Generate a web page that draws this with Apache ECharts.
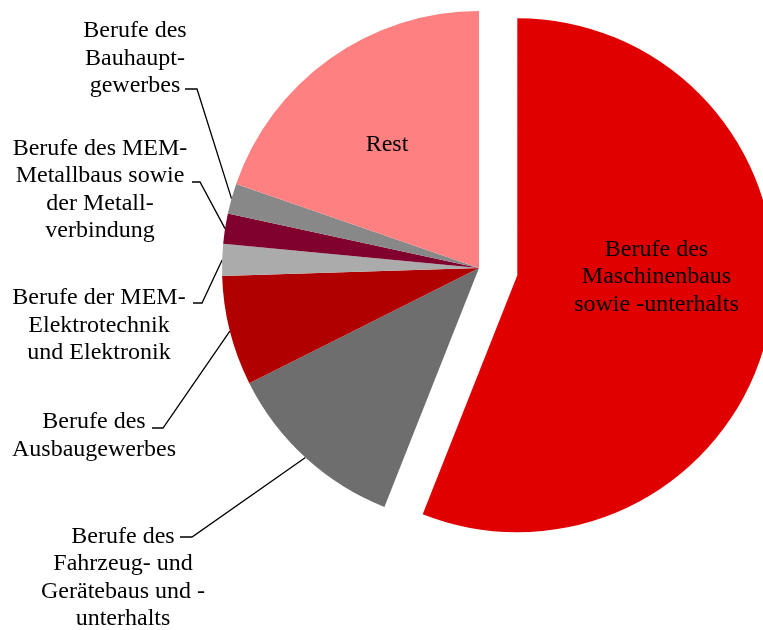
<!DOCTYPE html>
<html>
<head>
<meta charset="utf-8">
<script src="https://cdn.jsdelivr.net/npm/echarts@6/dist/echarts.min.js"></script>
<style>
  html, body { margin: 0; padding: 0; background: #fff; }
  #chart { width: 763px; height: 630px; }
</style>
</head>
<body>
<div id="chart"></div>
<script>
  // slices, clockwise from 12 o'clock
  var names = [
    'Berufe des\nMaschinenbaus\nsowie -unterhalts',
    'Berufe des\nFahrzeug- und\nGerätebaus und -\nunterhalts',
    'Berufe des\nAusbaugewerbes',
    'Berufe der MEM-\nElektrotechnik\nund Elektronik',
    'Berufe des MEM-\nMetallbaus sowie\nder Metall-\nverbindung',
    'Berufe des\nBauhaupt-\ngewerbes',
    'Rest'
  ];
  var shares = [56.0, 11.6, 6.9, 2.0, 1.9, 1.9, 19.7];
  var colors = ['#E00000', '#6E6E6E', '#B00000', '#ABABAB', '#80002E', '#888888', '#FF8080'];
  var exploded = [true, false, false, false, false, false, false];
  var insideLabel = [true, false, false, false, false, false, true];

  // label block centres and leader line elbows (layout only)
  var labelPos = [[666, 252.5], [123, 577.5], [94, 435.5], [99, 325.5], [100, 189.5], [135, 58.5], [387, 144.5]];
  // the exploded slice keeps its own label spot, nudged by this
  var explodedLabelOffset = [10, -23];
  var elbows = [
    null,
    [[192, 537], [180, 537]],
    [[163, 428], [152, 428]],
    [[202, 303], [193, 303]],
    [[200, 182], [192, 182]],
    [[197, 89], [185, 89]],
    null
  ];

  var chartDom = document.getElementById('chart');
  var myChart = echarts.init(chartDom);

  var data = names.map(function (n, i) {
    var lbl = { position: insideLabel[i] ? 'inside' : 'outside' };
    if (exploded[i]) lbl.offset = explodedLabelOffset;
    return {
      name: n,
      value: shares[i],
      selected: exploded[i],
      itemStyle: { color: colors[i] },
      label: lbl,
      select: {
        itemStyle: { color: colors[i], borderWidth: 0 },
        label: exploded[i] ? { offset: explodedLabelOffset } : {}
      },
      labelLine: { show: !insideLabel[i] }
    };
  });

  var option = {
    animation: false,
    backgroundColor: '#fff',
    series: [
      {
        type: 'pie',
        center: [479, 268],
        radius: 257,
        startAngle: 90,
        clockwise: true,
        selectedMode: 'single',
        selectedOffset: 39,
        avoidLabelOverlap: false,
        itemStyle: { borderWidth: 0 },
        emphasis: { disabled: true },
        label: {
          show: true,
          formatter: '{b}',
          fontFamily: 'Liberation Serif',
          fontSize: 24,
          lineHeight: 27.5,
          color: '#000',
          textBorderWidth: 0
        },
        labelLine: {
          show: true,
          length: 10,
          length2: 10,
          lineStyle: { color: '#000', width: 1.3 }
        },
        labelLayout: function (params) {
          var i = params.dataIndex;
          if (exploded[i]) return {};
          var out = {
            x: labelPos[i][0],
            y: labelPos[i][1],
            align: 'center',
            verticalAlign: 'middle'
          };
          if (elbows[i] && params.labelLinePoints) {
            out.labelLinePoints = [params.labelLinePoints[0], elbows[i][0], elbows[i][1]];
          }
          return out;
        },
        data: data
      }
    ]
  };

  option && myChart.setOption(option);
</script>
</body>
</html>
